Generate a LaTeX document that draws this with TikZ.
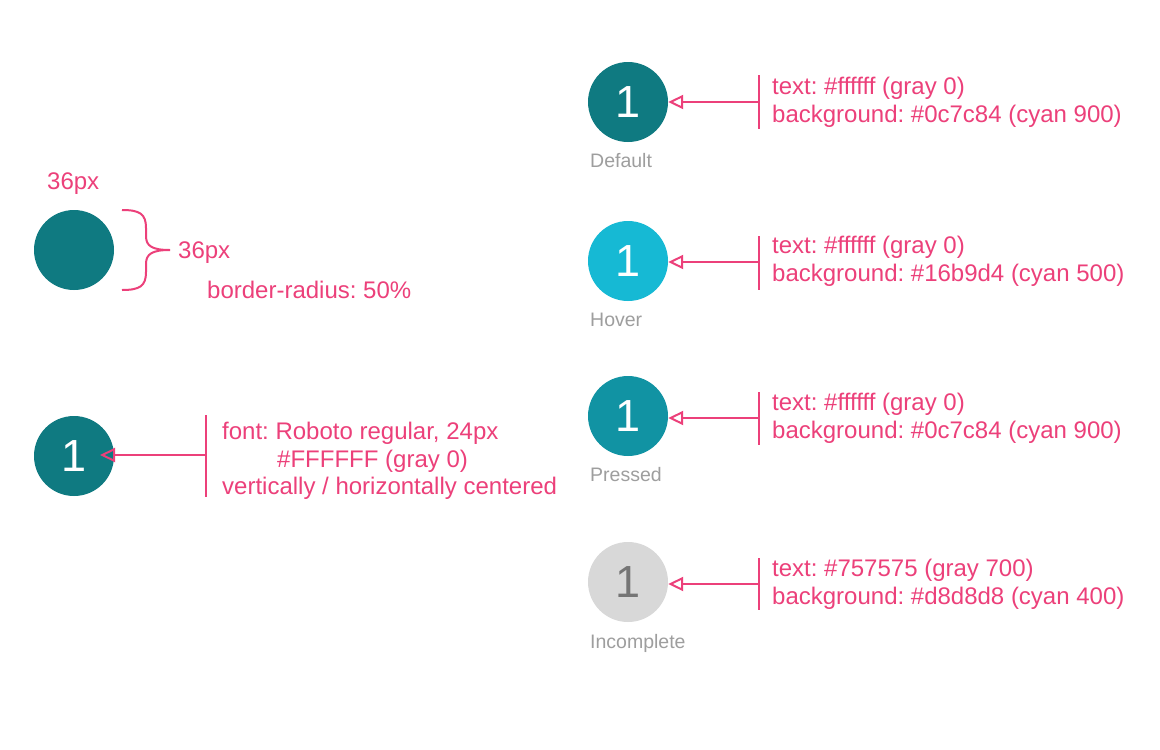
\documentclass[tikz,border=0pt]{standalone}
\usepackage{fontspec}
\setmainfont{Liberation Sans}
\usetikzlibrary{arrows.meta}
\frenchspacing
\definecolor{pinkc}{HTML}{EC407A}
\definecolor{tealdef}{HTML}{0F7A81}
\definecolor{cyanhov}{HTML}{16B9D4}
\definecolor{tealpress}{HTML}{1193A3}
\definecolor{greybg}{HTML}{D8D8D8}
\definecolor{greytx}{HTML}{757575}
\definecolor{labelgrey}{HTML}{9E9E9E}
\begin{document}
\begin{tikzpicture}[x=1pt,y=-1pt,
  dot/.style={circle, minimum size=80pt, inner sep=0pt, text=white, font=\fontsize{45}{45}\selectfont},
  note/.style={text=pinkc, font=\fontsize{24}{28}\selectfont, inner sep=0pt, anchor=base west},
  statelabel/.style={text=labelgrey, font=\fontsize{19.5}{19.5}\selectfont, inner sep=0pt, anchor=base west},
  bar/.style={draw=pinkc, line width=2pt},
  conn/.style={draw=pinkc, line width=2pt, -{Triangle[open,length=15pt,width=14pt,line width=2pt]}}]
\useasboundingbox (0,0) rectangle (1160,750);
\fill[white] (0,0) rectangle (1160,750);

% ---------- left: size spec ----------
\node[note] (w36) at (47,189) {36px};
\node[dot, fill=tealdef] (c0) at (74,250) {};
\coordinate (brtop) at (122,210);
\coordinate (brtip) at (170,250);
\coordinate (brbot) at (122,290);
\draw[pinkc, line width=2pt]
  (brtop) .. controls (140,210) and (146,214) .. (146,228)
  -- (146,236) .. controls (146,246) and (152,250) .. (brtip)
  (brtip) .. controls (152,250) and (146,254) .. (146,264)
  -- (146,272) .. controls (146,286) and (140,290) .. (brbot);
\node[note] (h36) at (178,258) {36px};
\node[note] (rad) at (207,298) {border-radius: 50\%};

% ---------- left: font spec ----------
\node[dot, fill=tealdef] (c5) at (74,456) {1};
\coordinate (b5t) at (206,415);
\coordinate (b5b) at (206,497);
\coordinate (b5m) at (206,455);
\coordinate (t5) at (100,455);
\draw[bar] (b5t) -- (b5b);
\draw[conn] (b5m) -- (t5);
\node[note] (f1) at (222,439) {font: Roboto regular, 24px};
\node[note] (f2) at (277,467) {\#FFFFFF (gray 0)};
\node[note] (f3) at (222,494) {vertically / horizontally centered};

% ---------- right: states ----------
% Default
\node[dot, fill=tealdef] (c1) at (628,102) {1};
\node[statelabel] (l1) at (590,167) {Default};
\coordinate (b1t) at (759,75);
\coordinate (b1b) at (759,129);
\coordinate (b1m) at (759,102);
\draw[bar] (b1t) -- (b1b);
\draw[conn] (b1m) -- (c1.east);
\node[note] (n1a) at (772,94) {text: \#ffffff (gray 0)};
\node[note] (n1b) at (772,122) {background: \#0c7c84 (cyan 900)};

% Hover
\node[dot, fill=cyanhov] (c2) at (628,261) {1};
\node[statelabel] (l2) at (590,326) {Hover};
\coordinate (b2t) at (759,236);
\coordinate (b2b) at (759,290);
\coordinate (b2m) at (759,262);
\draw[bar] (b2t) -- (b2b);
\draw[conn] (b2m) -- (c2.east |- b2m);
\node[note] (n2a) at (772,253) {text: \#ffffff (gray 0)};
\node[note] (n2b) at (772,281) {background: \#16b9d4 (cyan 500)};

% Pressed
\node[dot, fill=tealpress] (c3) at (628,416) {1};
\node[statelabel] (l3) at (590,481) {Pressed};
\coordinate (b3t) at (759,392);
\coordinate (b3b) at (759,445);
\coordinate (b3m) at (759,418);
\draw[bar] (b3t) -- (b3b);
\draw[conn] (b3m) -- (c3.east |- b3m);
\node[note] (n3a) at (772,410) {text: \#ffffff (gray 0)};
\node[note] (n3b) at (772,438) {background: \#0c7c84 (cyan 900)};

% Incomplete
\node[dot, fill=greybg, text=greytx] (c4) at (628,582) {1};
\node[statelabel] (l4) at (590,648) {Incomplete};
\coordinate (b4t) at (759,558);
\coordinate (b4b) at (759,610);
\coordinate (b4m) at (759,584);
\draw[bar] (b4t) -- (b4b);
\draw[conn] (b4m) -- (c4.east |- b4m);
\node[note] (n4a) at (772,576) {text: \#757575 (gray 700)};
\node[note] (n4b) at (772,604) {background: \#d8d8d8 (cyan 400)};
\end{tikzpicture}
\end{document}
